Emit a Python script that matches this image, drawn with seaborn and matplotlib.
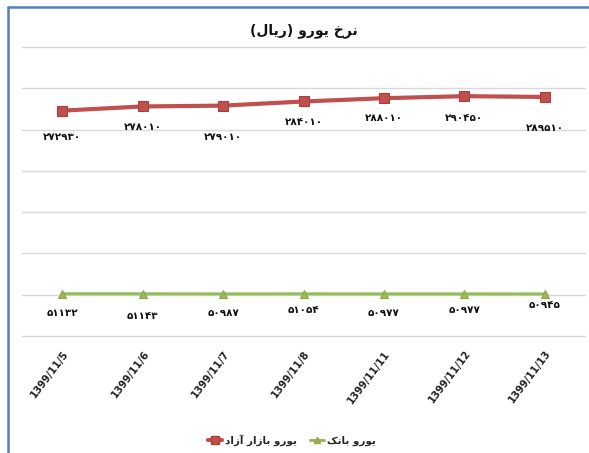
import matplotlib
matplotlib.use("Agg")
import matplotlib.pyplot as plt
import matplotlib.transforms as mtransforms
from matplotlib.lines import Line2D
import numpy as np
import pandas as pd
import seaborn as sns

# ---------------- data ----------------
dates = ["1399/11/5", "1399/11/6", "1399/11/7", "1399/11/8",
         "1399/11/11", "1399/11/12", "1399/11/13"]
free_market = [272930, 278010, 279010, 284010, 288010, 290450, 289510]
bank = [51132, 51143, 50987, 51054, 50977, 50977, 50945]
series_names = ["یورو بازار آزاد", "یورو بانک"]
title_text = "نرخ یورو (ریال)"
colors = ["#c0504d", "#9bbb59"]

# ---------------- minimal Persian shaping (visual order) ----------------
FORMS = {
    "ا": ("\uFE8D", "\uFE8E", None, None),
    "آ": ("\uFE81", "\uFE82", None, None),
    "ب": ("\uFE8F", "\uFE90", "\uFE91", "\uFE92"),
    "خ": ("\uFEA5", "\uFEA6", "\uFEA7", "\uFEA8"),
    "د": ("\uFEA9", "\uFEAA", None, None),
    "ر": ("\uFEAD", "\uFEAE", None, None),
    "ز": ("\uFEAF", "\uFEB0", None, None),
    "ل": ("\uFEDD", "\uFEDE", "\uFEDF", "\uFEE0"),
    "ن": ("\uFEE5", "\uFEE6", "\uFEE7", "\uFEE8"),
    "و": ("\uFEED", "\uFEEE", None, None),
    "ک": ("\uFB8E", "\uFB8F", "\uFB90", "\uFB91"),
    "ی": ("\uFBFC", "\uFBFD", "\uFBFE", "\uFBFF"),
}


def shape(text):
    out = []
    n = len(text)
    for i, ch in enumerate(text):
        if ch not in FORMS:
            out.append(ch)
            continue
        prev = text[i - 1] if i > 0 else None
        nxt = text[i + 1] if i < n - 1 else None
        jp = prev in FORMS and FORMS[prev][2] is not None
        jn = nxt in FORMS and FORMS[ch][2] is not None
        iso, fin, ini, med = FORMS[ch]
        if jp and jn:
            out.append(med)
        elif jp:
            out.append(fin)
        elif jn:
            out.append(ini)
        else:
            out.append(iso)
    vis = "".join(reversed(out))
    return vis.translate(str.maketrans("()", ")("))


PERSIAN_DIGITS = str.maketrans("0123456789", "۰۱۲۳۴۵۶۷۸۹")


def fa_num(v):
    return str(v).translate(PERSIAN_DIGITS)


# ---------------- plot ----------------
sns.set_style("white")
plt.rcParams["font.family"] = ["DejaVu Sans"]

fig = plt.figure(figsize=(5.89, 4.53), dpi=100, facecolor="white")
ax = fig.add_axes([22 / 589, 1 - 336 / 453, (585 - 22) / 589, (336 - 47) / 453])

df = pd.DataFrame({
    "date": dates * 2,
    "value": free_market + bank,
    "series": [shape(series_names[0])] * len(dates) + [shape(series_names[1])] * len(dates),
})
hue_order = [shape(s) for s in series_names]

sns.pointplot(data=df, x="date", y="value", hue="series", order=dates,
              hue_order=hue_order, palette=colors, markers=["s", "^"],
              linestyles=["-", "-"], errorbar=None, ax=ax, legend=False)

# restyle lines
lines = ax.lines
styles = [dict(lw=3.0, ms=6.5, mec="#a8403d"), dict(lw=2.2, ms=6.0, mec="#8aa84c")]
for ln, st in zip(lines[:2], styles):
    ln.set_linewidth(st["lw"])
    ln.set_markersize(st["ms"])
    ln.set_markeredgecolor(st["mec"])
    ln.set_markeredgewidth(0.8)
    ln.set_zorder(3)

ax.set_xlim(-0.5, len(dates) - 0.5)
ax.set_ylim(0, 350000)
ax.set_yticks(np.arange(0, 350001, 50000))
ax.set_yticklabels([])
ax.tick_params(axis="y", length=0)
ax.tick_params(axis="x", length=0, pad=9)
ax.grid(axis="y", color="#d9d9d9", lw=1.0)
ax.set_axisbelow(True)
for gl in ax.get_ygridlines():
    gl.set_clip_on(False)
for sp in ax.spines.values():
    sp.set_visible(False)
ax.set_xlabel("")
ax.set_ylabel("")

# x tick labels
ax.set_xticks(range(len(dates)))
ax.set_xticklabels(dates, rotation=53, ha="right", fontsize=7.2,
                   fontweight="bold", color="#222222")
offset = mtransforms.ScaledTranslation(6 / 72, 0, fig.dpi_scale_trans)
for lbl in ax.get_xticklabels():
    lbl.set_transform(lbl.get_transform() + offset)

# value labels
red_off = [26, 21, 31, 21, 20, 22, 31]
green_off = [19, 22, 19, 16, 19, 16, 11]
for i, v in enumerate(free_market):
    ax.annotate(fa_num(v), (i, v), xytext=(0, -red_off[i] * 0.72),
                textcoords="offset points", ha="center", va="center",
                fontsize=7.5, fontweight="bold", color="#111111")
for i, v in enumerate(bank):
    ax.annotate(fa_num(v), (i, v), xytext=(0, -green_off[i] * 0.72),
                textcoords="offset points", ha="center", va="center",
                fontsize=7.5, fontweight="bold", color="#111111")

# title
ax.set_title(shape(title_text), fontsize=10, fontweight="bold", pad=9,
             color="#111111")

# legend
handles = [Line2D([], [], color=colors[0], lw=3.0, marker="s", ms=5.5,
                  mec="#a8403d"),
           Line2D([], [], color=colors[1], lw=2.2, marker="^", ms=5.0,
                  mec="#8aa84c")]
fig.legend(handles, hue_order, loc="center", bbox_to_anchor=(292 / 589, 1 - 440 / 453),
           ncol=2, frameon=False, handlelength=1.4,
           handletextpad=0.3, columnspacing=1.2,
           prop={"weight": "bold", "size": 7.5})

# chart border (blue, left and top)
fig.add_artist(Line2D([8 / 589, 8 / 589], [0, 1 - 7 / 453], transform=fig.transFigure,
                      color="#4f81bd", lw=1.8))
fig.add_artist(Line2D([8 / 589, 1], [1 - 7 / 453, 1 - 7 / 453], transform=fig.transFigure,
                      color="#4f81bd", lw=1.8))

fig.savefig("out.png", dpi=100, facecolor="white")
